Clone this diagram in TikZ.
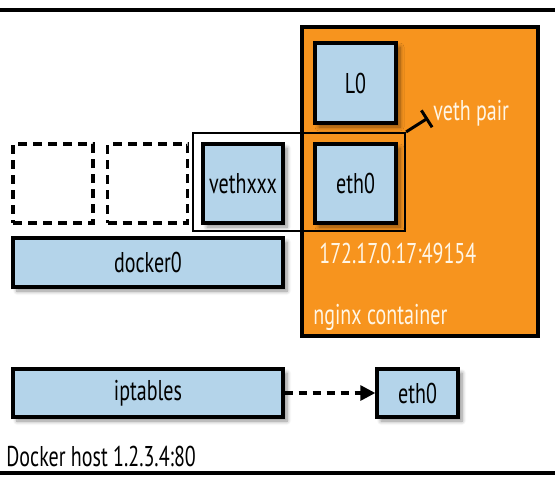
\documentclass[tikz,border=0pt]{standalone}
\usepackage{fontspec}
\setmainfont{PT Sans}[FakeStretch=0.7]
\usetikzlibrary{arrows.meta,positioning,shadows.blur}

\definecolor{ifblue}{HTML}{B4D4EA}
\definecolor{ctorange}{HTML}{F7941E}
\definecolor{ctlabel}{HTML}{FFF6E6}

\begin{document}
\begin{tikzpicture}[
  x=0.5pt,y=-0.5pt,
  font=\fontsize{14.3}{16}\selectfont,
  iface/.style={draw=black,line width=1.7pt,fill=ifblue,inner sep=0pt,
    blur shadow={shadow xshift=2pt,shadow yshift=-2pt,shadow blur steps=6,shadow opacity=45}},
  slot/.style={draw=black,line width=1.6pt,dash pattern=on 4.5pt off 3pt,inner sep=0pt,
    minimum width=40pt,minimum height=39.5pt},
  ctbox/.style={draw=black,line width=1.7pt,fill=ctorange,inner sep=0pt},
  pairbox/.style={draw=black,line width=1.1pt,inner sep=0pt},
  rule/.style={line width=1.6pt,draw=black},
  ctlbl/.style={text=ctlabel,anchor=west,inner sep=0pt},
  fwd/.style={line width=1.6pt,dash pattern=on 4pt off 3pt,-{Triangle[length=7.5pt,width=7.5pt]}}
]
\useasboundingbox (0,0) rectangle (555,484);

% ================= host frame =================
\draw[rule] (0,10) -- (555,10);
\draw[rule] (0,473) -- (555,473);

% ================= container =================
\node[ctbox,minimum width=118pt,minimum height=154.5pt] (container) at (420,181.5) {};

% ================= interfaces =================
\node[slot] (slotA) at (53,183.5) {};
\node[slot] (slotB) at (147.5,183.5) {};
\node[iface,minimum width=40pt,minimum height=39.5pt] (veth) at (243,183.5) {vethxxx};
\node[iface,minimum width=40.5pt,minimum height=40pt] (lo) at (355.5,83) {L0};
\node[iface,minimum width=40.5pt,minimum height=39.5pt] (cteth) at (355.5,183.5) {eth0};
\node[pairbox,minimum width=106pt,minimum height=49pt] (pair) at (299,182) {};

\node[iface,minimum width=135pt,minimum height=24.5pt] (docker) at (148,262.5) {docker0};
\node[iface,minimum width=135pt,minimum height=24pt] (iptables) at (148,393) {iptables};
\node[iface,minimum width=40.5pt,minimum height=24pt] (heth) at (417.5,393) {eth0};

% ================= labels =================
\node[ctlbl] (pairlbl) at (433,113) {veth pair};
\node[ctlbl] (ctaddr) at (319,253) {172.17.0.17:49154};
\node[ctlbl] (ctname) at (313,317) {nginx container};
\node[anchor=west,inner sep=0pt] (hostlbl) at (6,456) {Docker host 1.2.3.4:80};

% ================= connectors =================
\coordinate (pairtip) at (428,118);
\draw[line width=1.5pt,-{Bar[width=10pt,line width=1.5pt]}] (pair.north east) -- (pairtip);
\draw[fwd] (iptables.east) -- (heth.west);

\end{tikzpicture}
\end{document}
